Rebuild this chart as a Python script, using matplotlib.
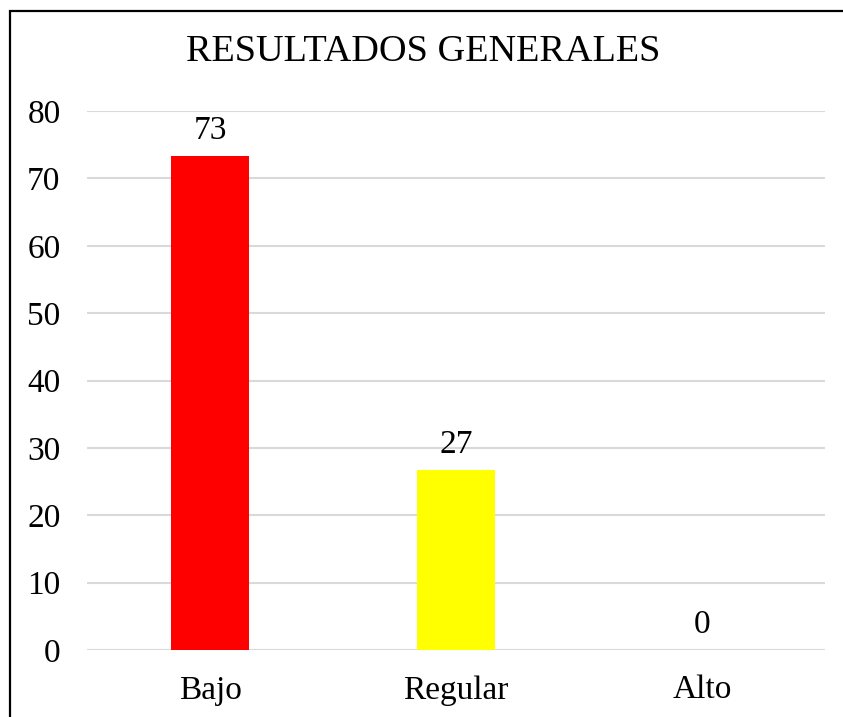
import matplotlib
matplotlib.use("Agg")
import matplotlib.pyplot as plt
from matplotlib.patches import Rectangle

categories = ["Bajo", "Regular", "Alto"]
values = [73.3, 26.7, 0.0]
labels = ["73", "27", "0"]
colors = ["#FF0000", "#FFFF00", "#FFC000"]
yticks = [0, 10, 20, 30, 40, 50, 60, 70, 80]
title = "RESULTADOS GENERALES"

plt.rcParams['font.family'] = ['Liberation Serif', 'DejaVu Serif']

W, H = 843, 717
fig = plt.figure(figsize=(W/100, H/100), dpi=100)
ax = fig.add_axes([87/W, 1-650/H, (825-87)/W, (650-111)/H])

x = list(range(len(categories)))
bars = ax.bar(x, values, width=0.317, color=colors, zorder=3)
ax.set_xlim(-0.5, len(categories)-0.5)
ax.set_ylim(0, 80)
ax.set_yticks(yticks)
ax.set_xticks(x)
ax.set_xticklabels(categories)
ax.tick_params(axis='both', length=0, labelsize=24, colors='black')
ax.tick_params(axis='y', pad=19)
ax.tick_params(axis='x', pad=18)
ax.grid(axis='y', color='#D9D9D9', linewidth=1.5, zorder=0)
for s in ax.spines.values():
    s.set_visible(False)

for xi, v, lab in zip(x, values, labels):
    ax.annotate(lab, (xi, v), xytext=(0, 7.5), textcoords='offset points',
                ha='center', va='bottom', fontsize=24)

fig.text(423/W, 1-52/H, title, ha='center', va='center', fontsize=27.5)

fig.patches.append(Rectangle((9.5/W, -0.05), 1.1, 1-10.5/H+0.05,
                             transform=fig.transFigure, fill=False,
                             edgecolor='black', linewidth=1.6))

fig.savefig("out.png", dpi=100)
